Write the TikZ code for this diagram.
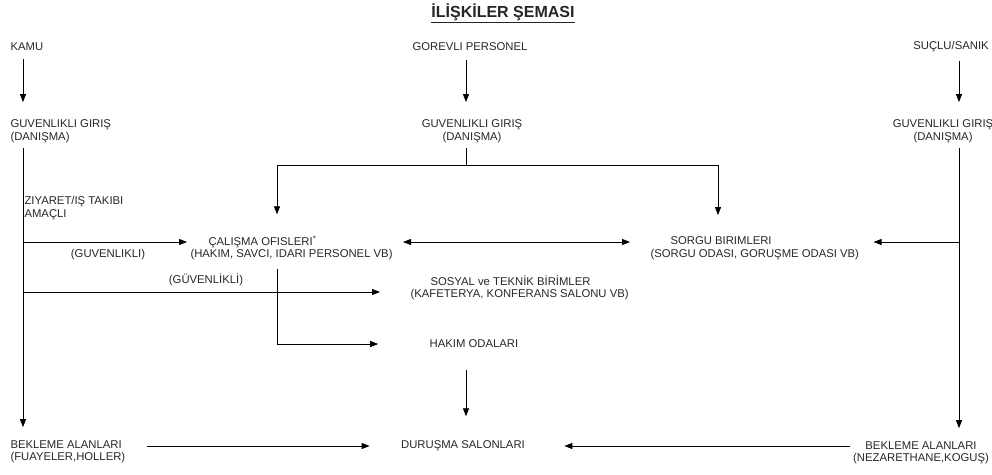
\documentclass[tikz,border=0pt]{standalone}
\usepackage{fontspec}
\setmainfont{Liberation Sans}
\usetikzlibrary{arrows.meta}

\begin{document}
\begin{tikzpicture}
  [x=1pt,y=-1pt,every node/.style={font=\fontsize{11.3}{12.5}\selectfont,text=black!85},
   arr/.style={draw=black,line width=0.8pt,-{Triangle[length=8pt,width=6pt]}},
   both/.style={arr,{Triangle[length=8pt,width=6pt]}-{Triangle[length=8pt,width=6pt]}}]
  \useasboundingbox (0,0) rectangle (992,474);
  \node[anchor=base] (title) at (503,17) {\fontsize{16}{18}\selectfont\bfseries\underline{İLİŞKİLER ŞEMASI}};
  % lanes
  \coordinate (lA) at (23,0);
  \coordinate (lB) at (466,0);
  \coordinate (lC) at (959,0);
  \coordinate (lO) at (277,0);
  \coordinate (lS) at (718,0);
  \coordinate (jOf) at (23,242);
  \coordinate (jSo) at (23,292);
  \coordinate (split) at (466,165);
  \coordinate (jSr) at (959,242);
  % nodes
  \node[anchor=west] (kamu) at (7,47) {KAMU};
  \node (gorevli) at (470,47) {GOREVLI PERSONEL};
  \node (sanik) at (951,47) {SUÇLU/SANIK};
  \node[anchor=west,align=left] (girisA) at (7,131) {GUVENLIKLI GIRIŞ\\(DANIŞMA)};
  \node[align=center] (girisB) at (472,131) {GUVENLIKLI GIRIŞ\\(DANIŞMA)};
  \node[align=center] (girisC) at (943,131) {GUVENLIKLI GIRIŞ\\(DANIŞMA)};
  \node[anchor=west,align=left] (ziyaret) at (21,208) {ZIYARET/IŞ TAKIBI\\AMAÇLI};
  \node[anchor=west,align=left] (ofis) at (187,248) {\hspace{18pt}ÇALIŞMA OFISLERI\textsuperscript{*}\\(HAKIM, SAVCI, IDARI PERSONEL VB)};
  \node[anchor=west,align=left] (sorgu) at (647,248) {\hspace{20pt}SORGU BIRIMLERI\\(SORGU ODASI, GORUŞME ODASI VB)};
  \node[anchor=west,align=left] (sosyal) at (407,288) {\hspace{20pt}SOSYAL ve TEKNİK BİRİMLER\\(KAFETERYA, KONFERANS SALONU VB)};
  \node (hakim) at (474,344) {HAKIM ODALARI};
  \node (durusma) at (463,446) {DURUŞMA SALONLARI};
  \node[anchor=west,align=left] (beklA) at (7,452) {BEKLEME ALANLARI\\(FUAYELER,HOLLER)};
  \node[align=center] (beklC) at (921,453) {BEKLEME ALANLARI\\(NEZARETHANE,KOGUŞ)};
  \node (guvA) at (108,255) {(GUVENLIKLI)};
  \node (guvB) at (206,280) {(GÜVENLİKLİ)};
  % connectors
  \foreach \from/\to/\lane in {kamu/girisA/lA,gorevli/girisB/lB,sanik/girisC/lC}
    \draw[arr,shorten <=5pt,shorten >=14pt] (\from.south -| \lane) -- (\to.north -| \lane);
  \foreach \from/\to/\lane in {girisA/beklA/lA,girisC/beklC/lC}
    \draw[arr,shorten <=2pt,shorten >=10pt] (\from.south -| \lane) -- (\to.north -| \lane);
  \draw[line width=0.8pt,shorten <=2pt] (girisB.south -| lB) -- (split);
  \draw[arr,shorten >=18pt] (split) -| (ofis.north -| lO);
  \draw[arr,shorten >=18pt] (split) -| (sorgu.north -| lS);
  \draw[arr] (jOf) -- (ofis.west |- jOf);
  \draw[arr,shorten >=27pt] (jSo) -- (sosyal.west |- jSo);
  \draw[both,shorten <=7pt,shorten >=17pt] (ofis.east |- jOf) -- (sorgu.west |- jOf);
  \draw[arr,shorten >=11pt] (jSr) -- (sorgu.east |- jSr);
  \draw[arr,shorten <=5pt,shorten >=48pt] (ofis.south -| lO) |- (hakim.west);
  \draw[arr,shorten <=18pt,shorten >=21pt] (hakim.south -| lB) -- (durusma.north -| lB);
  \draw[arr,shorten <=18pt,shorten >=28pt] (beklA.east |- durusma) -- (durusma.west);
  \draw[arr,shorten >=36pt] (beklC.west |- durusma) -- (durusma.east);
\end{tikzpicture}
\end{document}
